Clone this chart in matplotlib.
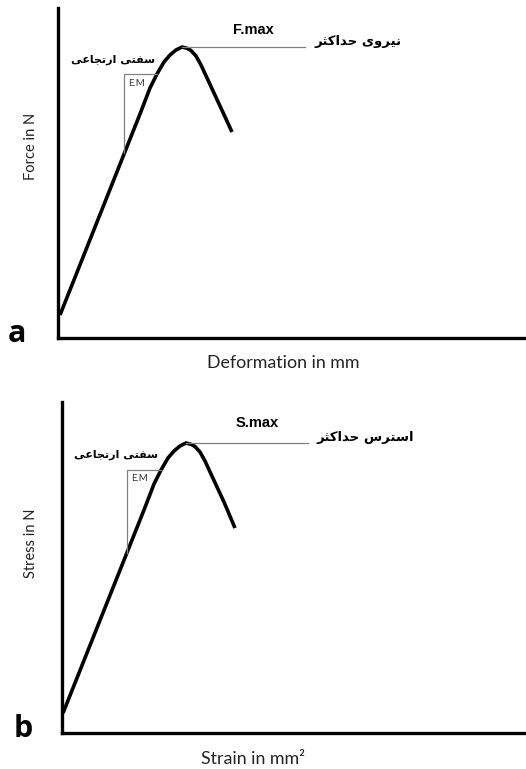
import matplotlib.pyplot as plt

# panel a: force vs deformation (schematic units 0-100)
deformation = [0.43, 17.52, 19.66, 21.15, 22.65, 23.93, 25.21, 26.50, 27.56,
               28.42, 29.49, 30.56, 31.84, 34.62, 37.18]
force = [6.97, 67.88, 75.76, 80.0, 83.64, 85.76, 87.27, 88.18, 87.79,
         87.12, 85.45, 82.73, 78.79, 70.30, 62.42]

# panel b: stress vs strain
strain = [0.22, 17.67, 19.83, 21.34, 22.84, 24.14, 25.43, 26.72, 27.80,
          28.66, 29.74, 30.82, 32.11, 34.91, 37.28]
stress = [6.04, 67.37, 75.23, 79.46, 83.08, 85.20, 86.71, 87.61, 87.22,
          86.56, 84.89, 82.18, 78.25, 69.79, 61.93]

W, H = 526, 769

# minimal arabic/persian shaping (matplotlib has no text shaping)
FORMS = {
    'ا': ('\uFE8D', '\uFE8E', None, None),
    'ت': ('\uFE95', '\uFE96', '\uFE97', '\uFE98'),
    'ث': ('\uFE99', '\uFE9A', '\uFE9B', '\uFE9C'),
    'ج': ('\uFE9D', '\uFE9E', '\uFE9F', '\uFEA0'),
    'ح': ('\uFEA1', '\uFEA2', '\uFEA3', '\uFEA4'),
    'د': ('\uFEA9', '\uFEAA', None, None),
    'ر': ('\uFEAD', '\uFEAE', None, None),
    'س': ('\uFEB1', '\uFEB2', '\uFEB3', '\uFEB4'),
    'ع': ('\uFEC9', '\uFECA', '\uFECB', '\uFECC'),
    'ف': ('\uFED1', '\uFED2', '\uFED3', '\uFED4'),
    'ک': ('\uFB8E', '\uFB8F', '\uFB90', '\uFB91'),
    'ن': ('\uFEE5', '\uFEE6', '\uFEE7', '\uFEE8'),
    'و': ('\uFEED', '\uFEEE', None, None),
    'ی': ('\uFBFC', '\uFBFD', '\uFBFE', '\uFBFF'),
}


def shape(text):
    out = []
    for i, ch in enumerate(text):
        if ch not in FORMS:
            out.append(ch)
            continue
        prev = text[i - 1] if i > 0 else None
        nxt = text[i + 1] if i + 1 < len(text) else None
        jp = prev in FORMS and FORMS[prev][2] is not None
        jn = nxt in FORMS and FORMS[ch][2] is not None
        iso, fin, ini, med = FORMS[ch]
        if jp and jn:
            out.append(med)
        elif jp:
            out.append(fin)
        elif jn:
            out.append(ini)
        else:
            out.append(iso)
    return ''.join(reversed(out))


def px(x, y):
    return x / W, 1 - y / H


fig = plt.figure(figsize=(W / 100, H / 100), dpi=100)

panels = [
    dict(rect=(58, 8, 526, 338), x=deformation, y=force, peak='F.max',
         peak_fa='نیروی حداکثر', em=(14.1, 56.0, 80.0, 21.15), line_end=52.8,
         txt=dict(peak=(41.7, 93.3), fa=(64.1, 89.7), stiff=(11.8, 84.2), em=(15.0, 77.0)),
         xlabel='Deformation in mm', xl=(283, 363), ylabel='Force in N', yl=(31, 146),
         tag='a', tagpos=(17, 342)),
    dict(rect=(62, 402, 526, 733), x=strain, y=stress, peak='S.max',
         peak_fa='استرس حداکثر', em=(14.0, 54.5, 79.46, 21.34), line_end=53.0,
         txt=dict(peak=(42.0, 93.7), fa=(65.4, 89.4), stiff=(11.6, 84.0), em=(14.9, 76.8)),
         xlabel='Strain in mm²', xl=(253, 759), ylabel='Stress in N', yl=(31, 543),
         tag='b', tagpos=(23, 737)),
]

for p in panels:
    l, t, r, b = p['rect']
    ax = fig.add_axes([l / W, 1 - b / H, (r - l) / W, (b - t) / H])
    ax.set_xlim(0, 100)
    ax.set_ylim(0, 100)
    for s in ['top', 'right']:
        ax.spines[s].set_visible(False)
    for s in ['left', 'bottom']:
        ax.spines[s].set_linewidth(2.4)
        ax.spines[s].set_color('black')
    ax.set_xticks([])
    ax.set_yticks([])

    ax.plot(p['x'], p['y'], color='black', lw=2.6, solid_joinstyle='round',
            solid_capstyle='butt')

    # peak line
    i_max = p['y'].index(max(p['y']))
    ax.plot([p['x'][i_max], p['line_end']], [p['y'][i_max]] * 2, color='#808080', lw=0.9)

    # elastic modulus triangle
    ex, y0, y1, ex2 = p['em']
    ax.plot([ex, ex, ex2], [y0, y1, y1], color='#808080', lw=0.9)

    tx = p['txt']
    ax.text(*tx['peak'], p['peak'], ha='center', va='center', fontsize=10.5,
            fontweight='bold', family='Liberation Sans')
    ax.text(*tx['fa'], shape(p['peak_fa']), ha='center', va='center', fontsize=9.5,
            fontweight='bold', family='DejaVu Sans')
    ax.text(*tx['stiff'], shape('سفتی ارتجاعی'), ha='center', va='center', fontsize=8,
            fontweight='bold', family='DejaVu Sans')
    ax.text(*tx['em'], 'E.M', ha='left', va='center', fontsize=7, family='Lato',
            color='#333333')

    fig.text(*px(*p['xl']), p['xlabel'], ha='center', va='center', fontsize=12.8,
             family='Lato', color='#222222')
    fig.text(*px(*p['yl']), p['ylabel'], ha='center', va='center', fontsize=10.5,
             family='Lato', rotation=90, color='#222222')
    fig.text(*px(*p['tagpos']), p['tag'], ha='center', va='baseline', fontsize=22,
             fontweight='bold', family='Open Sans')

fig.savefig('out.png', dpi=100)
